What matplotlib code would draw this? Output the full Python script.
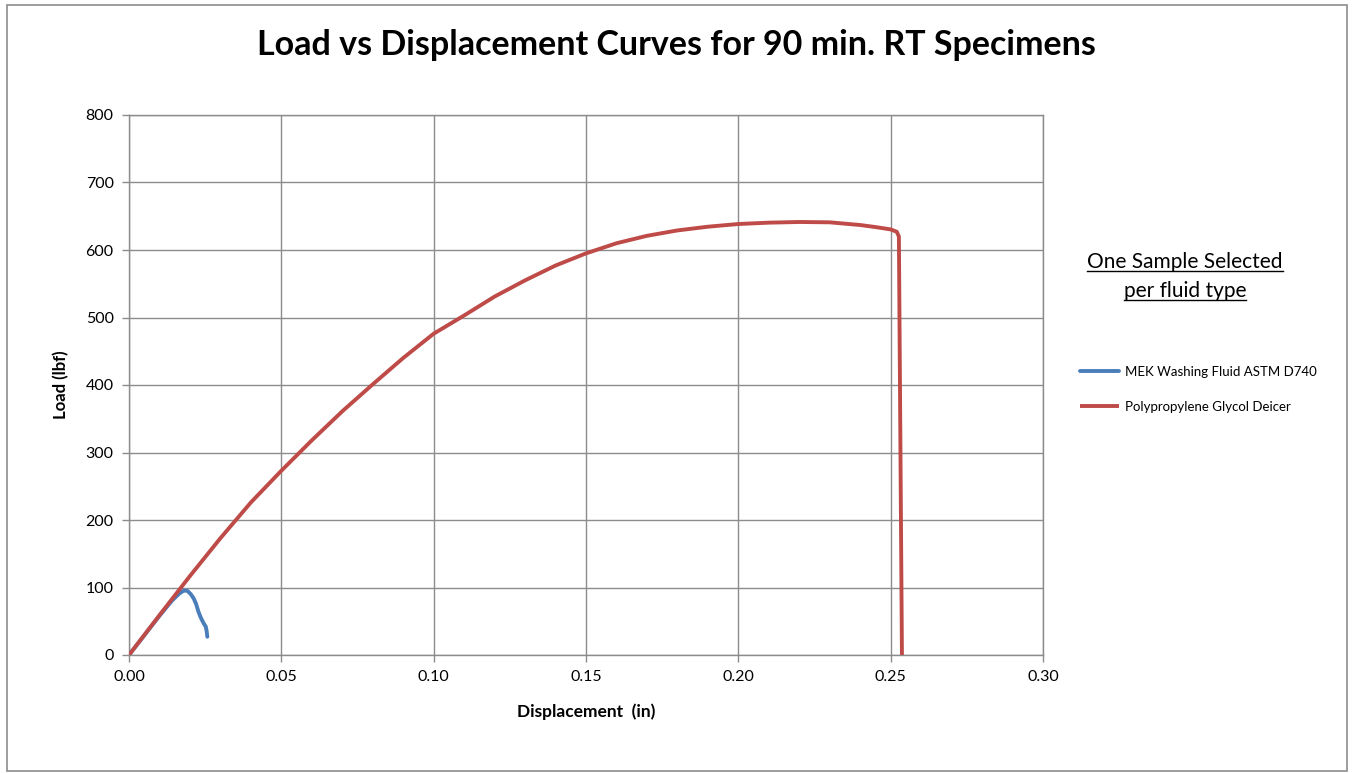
import matplotlib
matplotlib.use("Agg")
import matplotlib.pyplot as plt
from matplotlib.patches import Rectangle
from matplotlib.lines import Line2D

plt.rcParams['font.family'] = ['Lato', 'DejaVu Sans']

mek_x = [0.0, 0.005, 0.010, 0.014, 0.0165, 0.0180, 0.0192, 0.0203, 0.0212, 0.0220, 0.0228, 0.0236, 0.0245, 0.0252, 0.0255, 0.0257]
mek_y = [0, 29, 58, 80, 91, 95.5, 95, 90, 84, 76, 64, 55, 47, 42, 35, 27]

ppg_x = [0.0, 0.01, 0.02, 0.03, 0.04, 0.05, 0.06, 0.07, 0.08, 0.09, 0.10, 0.11, 0.12, 0.13,
         0.14, 0.15, 0.16, 0.17, 0.18, 0.19, 0.20, 0.21, 0.22, 0.23, 0.24, 0.245, 0.25, 0.252, 0.2527, 0.2537]
ppg_y = [0, 59, 117, 173, 226, 273, 318, 361, 401, 440, 476, 503, 531, 555,
         577, 595, 610, 621, 629, 634.5, 638.5, 640.5, 641.5, 641, 637, 634, 630.5, 627, 620, 0]

x_ticks = [0.00, 0.05, 0.10, 0.15, 0.20, 0.25, 0.30]
y_ticks = [0, 100, 200, 300, 400, 500, 600, 700, 800]

W, H = 1353, 773
fig = plt.figure(figsize=(W / 100, H / 100), dpi=100)
fig.patch.set_facecolor('white')
fig.patches.append(Rectangle((7 / W, 1 - 771 / H), 1340 / W, 766 / H, transform=fig.transFigure,
                             fill=False, edgecolor='#8c8c8c', linewidth=1.2))

ax = fig.add_axes([129 / W, 1 - 655 / H, (1043 - 129) / W, (655 - 115) / H])
grid_c = '#8c8c8c'
ax.plot(mek_x, mek_y, color='#4A7EBB', lw=2.8, solid_capstyle='round', solid_joinstyle='round',
        label='MEK Washing Fluid ASTM D740', zorder=3)
ax.plot(ppg_x, ppg_y, color='#BE4B48', lw=2.8, solid_capstyle='butt', solid_joinstyle='round',
        label='Polypropylene Glycol Deicer', zorder=3)

ax.set_xlim(0, 0.30)
ax.set_ylim(0, 800)
ax.set_xticks(x_ticks)
ax.set_xticklabels([f"{v:.2f}" for v in x_ticks])
ax.set_yticks(y_ticks)
ax.set_yticklabels([str(v) for v in y_ticks])
ax.grid(True, color=grid_c, lw=1.0)
ax.set_axisbelow(True)
for s in ax.spines.values():
    s.set_color(grid_c)
    s.set_linewidth(1.0)
ax.tick_params(axis='both', colors=grid_c, labelcolor='black', labelsize=11.5, length=5, width=1.0, direction='out')
ax.tick_params(axis='x', pad=6)
ax.tick_params(axis='y', pad=6)

ax.set_xlabel('Displacement  (in)', fontsize=12.5, fontweight='bold', labelpad=14)
ax.set_ylabel('Load (lbf)', fontsize=12, fontweight='bold', labelpad=12)

fig.text(676 / W, 1 - 45 / H, 'Load vs Displacement Curves for 90 min. RT Specimens',
         ha='center', va='center', fontsize=24.5, fontweight='bold')

leg = fig.legend(loc='upper left', bbox_to_anchor=(1068 / W, 1 - 354 / H), frameon=False,
                 fontsize=9.5, handlelength=3.0, handletextpad=0.4, labelspacing=1.75)

t1 = fig.text(1185 / W, 1 - 262 / H, 'One Sample Selected', ha='center', va='center', fontsize=15)
t2 = fig.text(1185 / W, 1 - 291 / H, 'per fluid type', ha='center', va='center', fontsize=15)

fig.canvas.draw()
r = fig.canvas.get_renderer()
for t in (t1, t2):
    bb = t.get_window_extent(renderer=r)
    yline = bb.y0 + 1
    fig.lines.append(Line2D([bb.x0 / W, bb.x1 / W], [yline / H, yline / H],
                            transform=fig.transFigure, color='black', lw=1.0))

fig.savefig('out.png', dpi=100, facecolor='white')
